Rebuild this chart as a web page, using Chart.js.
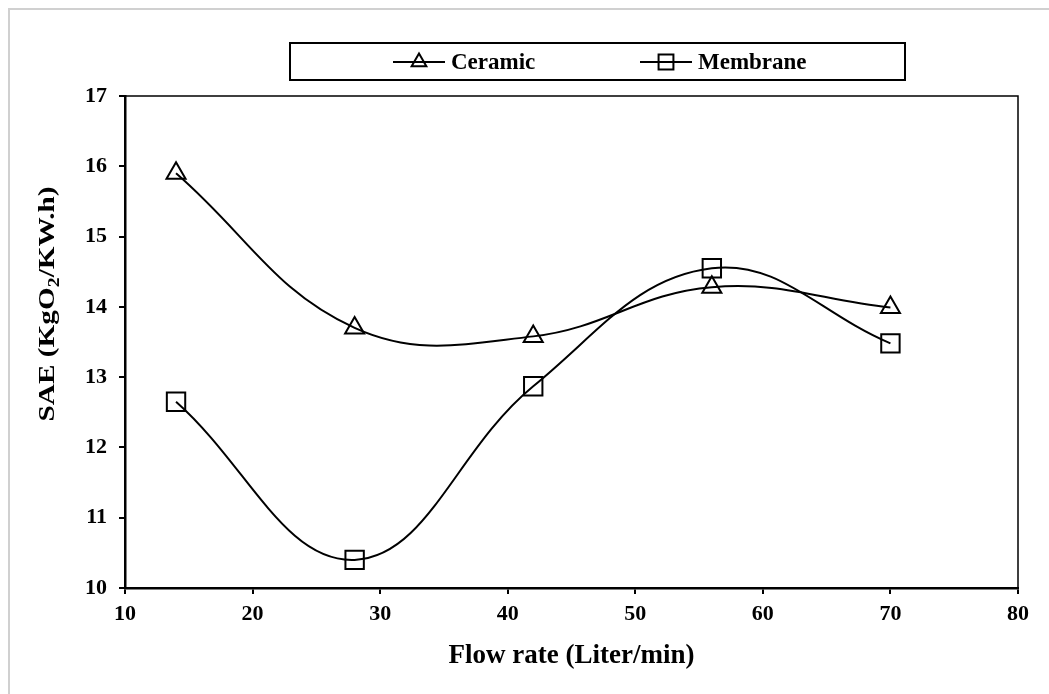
<!DOCTYPE html>
<html lang="en">
<head>
  <meta charset="UTF-8">
  <title>SAE vs Flow rate</title>
  <script src="https://cdn.jsdelivr.net/npm/chart.js"></script>
  <style>
    html, body { margin: 0; padding: 0; background: #fff; }
    #wrap { width: 1049px; height: 694px; position: relative; }
  </style>
</head>
<body>
  <div id="wrap"><canvas id="saeChart"></canvas></div>

  <script>
    // data
    var flowRates = [14, 28, 42, 56, 70];
    var ceramicSAE = [15.9, 13.7, 13.58, 14.28, 13.99];
    var membraneSAE = [12.65, 10.4, 12.87, 14.55, 13.48];
    var xTicks = [10, 20, 30, 40, 50, 60, 70, 80];
    var yTicks = [10, 11, 12, 13, 14, 15, 16, 17];

    var serif = "'Liberation Serif', 'Times New Roman', serif";

    function toPoints(xs, ys) {
      return xs.map(function (x, i) { return { x: x, y: ys[i] }; });
    }

    // frame, box lines, y title (with subscript) and the bordered legend
    var decor = {
      id: 'decor',
      beforeDraw: function (chart) {
        var c = chart.ctx;
        c.save();
        c.fillStyle = '#fff';
        c.fillRect(0, 0, chart.width, chart.height);
        c.strokeStyle = '#d0d0d0';
        c.lineWidth = 2;
        c.beginPath();
        c.moveTo(9, chart.height);
        c.lineTo(9, 9);
        c.lineTo(chart.width, 9);
        c.stroke();
        c.restore();
      },
      afterDraw: function (chart) {
        var c = chart.ctx;
        var a = chart.chartArea;
        c.save();
        c.strokeStyle = '#000';
        c.lineWidth = 1.5;
        c.beginPath();
        c.moveTo(a.left, a.top);
        c.lineTo(a.right, a.top);
        c.lineTo(a.right, a.bottom);
        c.stroke();

        // y axis title
        var big = 'bold 22px ' + serif, small = 'bold 15px ' + serif;
        var p1 = 'SAE (KgO', p2 = '2', p3 = '/KW.h)';
        c.font = big; var w1 = c.measureText(p1).width, w3 = c.measureText(p3).width;
        c.font = small; var w2 = c.measureText(p2).width;
        var total = w1 + w2 + w3;
        c.save();
        c.translate(47, 304);
        c.rotate(-Math.PI / 2);
        c.scale(235 / total, 1.05);
        c.fillStyle = '#000';
        c.textBaseline = 'alphabetic';
        var x0 = -total / 2;
        c.font = big; c.fillText(p1, x0, 7);
        c.font = small; c.fillText(p2, x0 + w1, 11);
        c.font = big; c.fillText(p3, x0 + w1 + w2, 7);
        c.restore();

        // legend box
        c.lineWidth = 2;
        c.strokeRect(290, 43, 615, 37);
        c.font = 'bold 23px ' + serif;
        c.fillStyle = '#000';
        c.textBaseline = 'middle';
        var items = [
          { x: 393, label: 'Ceramic', style: 'triangle', r: 8.5 },
          { x: 640, label: 'Membrane', style: 'rect', r: 10.5 }
        ];
        items.forEach(function (it) {
          var cy = 62;
          c.lineWidth = 2;
          c.beginPath();
          c.moveTo(it.x, cy);
          c.lineTo(it.x + 52, cy);
          c.stroke();
          c.fillStyle = 'rgba(0,0,0,0)';
          Chart.helpers.drawPoint(c, { pointStyle: it.style, radius: it.r, borderWidth: 2 }, it.x + 26, cy);
          c.fillStyle = '#000';
          c.fillText(it.label, it.x + 58, cy + 1);
        });
        c.restore();
      }
    };

    var ctx = document.getElementById('saeChart').getContext('2d');
    var saeChart = new Chart(ctx, {
      type: 'line',
      data: {
        datasets: [{
          label: 'Ceramic',
          data: toPoints(flowRates, ceramicSAE),
          borderColor: '#000',
          borderWidth: 2,
          backgroundColor: 'rgba(0,0,0,0)',
          pointStyle: 'triangle',
          pointRadius: 11,
          pointBorderWidth: 2,
          pointBorderColor: '#000',
          pointBackgroundColor: 'rgba(0,0,0,0)',
          tension: 0.4,
          fill: false
        }, {
          label: 'Membrane',
          data: toPoints(flowRates, membraneSAE),
          borderColor: '#000',
          borderWidth: 2,
          backgroundColor: 'rgba(0,0,0,0)',
          pointStyle: 'rect',
          pointRadius: 13,
          pointBorderWidth: 2,
          pointBorderColor: '#000',
          pointBackgroundColor: 'rgba(0,0,0,0)',
          tension: 0.4,
          fill: false
        }]
      },
      options: {
        responsive: true,
        maintainAspectRatio: false,
        animation: false,
        clip: false,
        layout: { padding: { left: 0, right: 31, top: 96, bottom: 0 } },
        plugins: {
          legend: { display: false },
          tooltip: { enabled: false }
        },
        scales: {
          x: {
            type: 'linear',
            min: 10,
            max: 80,
            afterFit: function (s) { s.height = 106; },
            afterBuildTicks: function (s) { s.ticks = xTicks.map(function (v) { return { value: v }; }); },
            border: { display: true, color: '#000', width: 2.5 },
            grid: { drawOnChartArea: false, drawTicks: true, tickLength: 6, color: '#000', lineWidth: 2 },
            ticks: { color: '#000', padding: 7, maxRotation: 0, font: { family: serif, size: 22, weight: 'bold' } },
            title: {
              display: true,
              text: 'Flow rate (Liter/min)',
              color: '#000',
              padding: { top: 0, bottom: 22 },
              font: { family: serif, size: 27, weight: 'bold' }
            }
          },
          y: {
            type: 'linear',
            min: 10,
            max: 17,
            afterFit: function (s) { s.width = 125; },
            afterBuildTicks: function (s) { s.ticks = yTicks.map(function (v) { return { value: v }; }); },
            border: { display: true, color: '#000', width: 2.5 },
            grid: { drawOnChartArea: false, drawTicks: true, tickLength: 6, color: '#000', lineWidth: 2 },
            ticks: { color: '#000', padding: 12, font: { family: serif, size: 22, weight: 'bold' } },
            title: { display: false }
          }
        }
      },
      plugins: [decor]
    });
  </script>
</body>
</html>
